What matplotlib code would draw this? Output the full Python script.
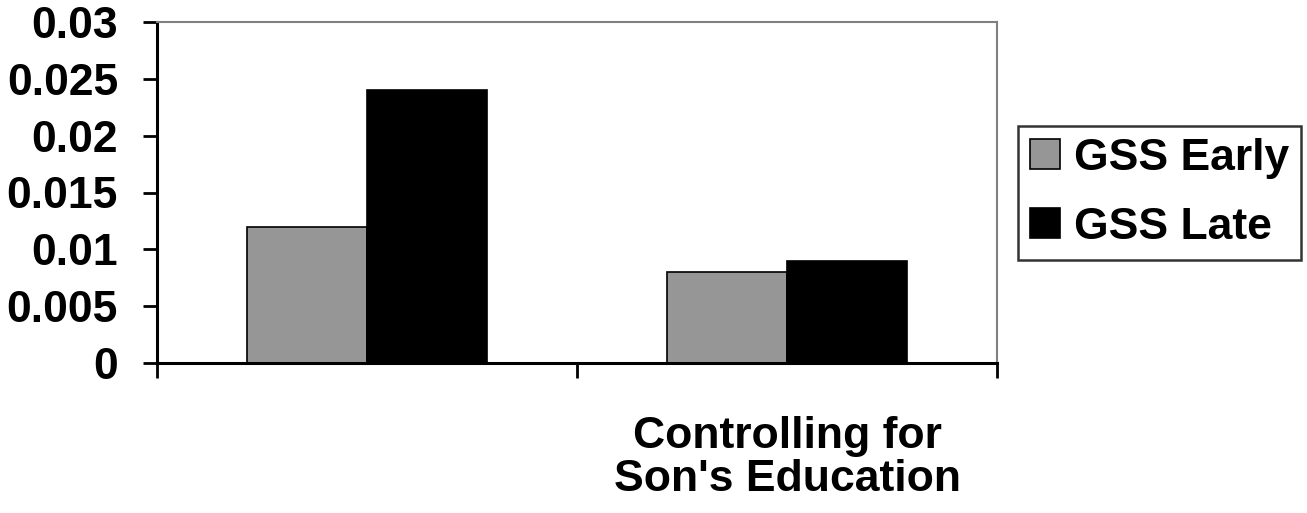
import matplotlib
matplotlib.use("Agg")
import matplotlib.pyplot as plt
import numpy as np

# data
categories = ["", "Controlling for\nSon's Education"]
series_names = ["GSS Early", "GSS Late"]
early = [0.012, 0.008]
late = [0.024, 0.009]
yticks = [0, 0.005, 0.01, 0.015, 0.02, 0.025, 0.03]
ytick_labels = ["0", "0.005", "0.01", "0.015", "0.02", "0.025", "0.03"]

plt.rcParams['font.family'] = ['Liberation Sans', 'DejaVu Sans']
plt.rcParams['font.weight'] = 'bold'
FS = 32

fig = plt.figure(figsize=(13.07, 5.13), dpi=100)
ax = fig.add_axes([157 / 1307, 1 - 363 / 513, 840 / 1307, 341 / 513])

x = np.arange(len(categories))
w = 1 / 3.5
ax.bar(x - w / 2, early, w, color='#969696', edgecolor='black', linewidth=1.2, label=series_names[0])
ax.bar(x + w / 2, late, w, color='black', edgecolor='black', linewidth=1.2, label=series_names[1])

ax.set_xlim(-0.5, len(categories) - 0.5)
ax.set_ylim(0, 0.03)
ax.set_yticks(yticks)
ax.set_yticklabels(ytick_labels, fontsize=FS, fontweight='bold')
ax.tick_params(axis='y', direction='out', length=10, width=2, pad=18)

ax.set_xticks(x)
ax.set_xticklabels(categories, fontsize=FS, fontweight='bold', linespacing=1.06)
ax.set_xticks(np.arange(len(categories) + 1) - 0.5, minor=True)
ax.tick_params(axis='x', which='major', length=0, pad=38)
ax.tick_params(axis='x', which='minor', direction='out', length=11, width=2)

for s in ['left', 'bottom']:
    ax.spines[s].set_color('black')
    ax.spines[s].set_linewidth(2.2)
for s in ['top', 'right']:
    ax.spines[s].set_color('#808080')
    ax.spines[s].set_linewidth(1.5)

leg = fig.legend(loc='upper left', bbox_to_anchor=(1018 / 1307, 1 - 126 / 513),
                 prop={'weight': 'bold', 'size': FS}, frameon=True, fancybox=False,
                 edgecolor='black', borderaxespad=0, borderpad=0.27,
                 handlelength=0.68, handleheight=0.66, handletextpad=0.3,
                 labelspacing=0.62)
leg.get_frame().set_linewidth(1.8)

fig.savefig('out.png', dpi=100, facecolor='white')
